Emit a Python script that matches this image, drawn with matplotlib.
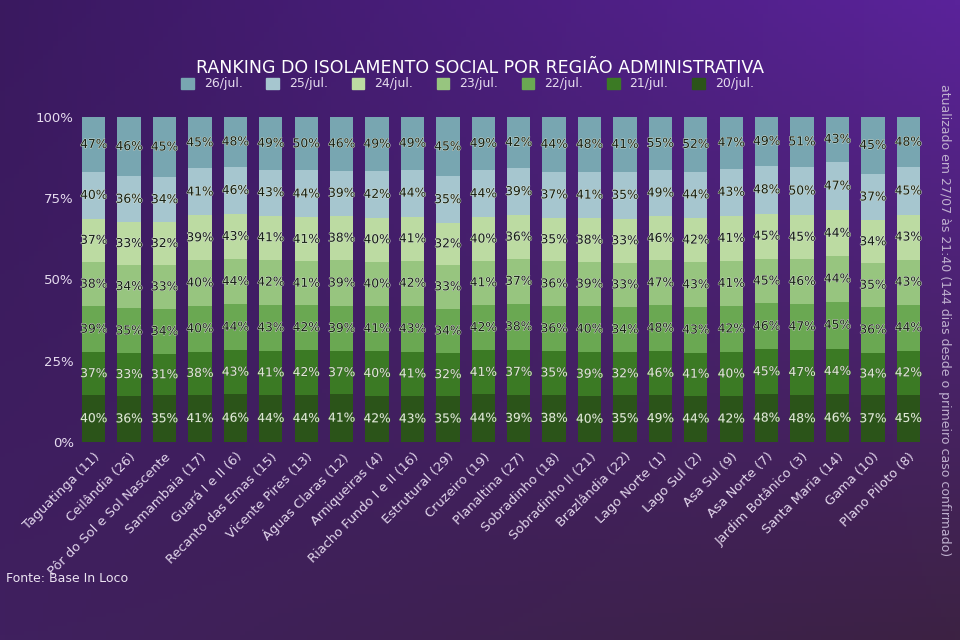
import numpy as np
import matplotlib.pyplot as plt
import matplotlib.patheffects as pe
from matplotlib.colors import to_rgb

# regions (x axis), left to right
regioes = ['Taguatinga (11)', 'Ceilândia (26)', 'Pôr do Sol e Sol Nascente', 'Samambaia (17)',
           'Guará I e II (6)', 'Recanto das Emas (15)', 'Vicente Pires (13)', 'Águas Claras (12)',
           'Arniqueiras (4)', 'Riacho Fundo I e II (16)', 'Estrutural (29)', 'Cruzeiro (19)',
           'Planaltina (27)', 'Sobradinho (18)', 'Sobradinho II (21)', 'Brazlândia (22)',
           'Lago Norte (1)', 'Lago Sul (2)', 'Asa Sul (9)', 'Asa Norte (7)',
           'Jardim Botânico (3)', 'Santa Maria (14)', 'Gama (10)', 'Plano Piloto (8)']

# isolation index (%) per day, bottom to top of each bar
jul20 = [40, 36, 35, 41, 46, 44, 44, 41, 42, 43, 35, 44, 39, 38, 40, 35, 49, 44, 42, 48, 48, 46, 37, 45]
jul21 = [37, 33, 31, 38, 43, 41, 42, 37, 40, 41, 32, 41, 37, 35, 39, 32, 46, 41, 40, 45, 47, 44, 34, 42]
jul22 = [39, 35, 34, 40, 44, 43, 42, 39, 41, 43, 34, 42, 38, 36, 40, 34, 48, 43, 42, 46, 47, 45, 36, 44]
jul23 = [38, 34, 33, 40, 44, 42, 41, 39, 40, 42, 33, 41, 37, 36, 39, 33, 47, 43, 41, 45, 46, 44, 35, 43]
jul24 = [37, 33, 32, 39, 43, 41, 41, 38, 40, 41, 32, 40, 36, 35, 38, 33, 46, 42, 41, 45, 45, 44, 34, 43]
jul25 = [40, 36, 34, 41, 46, 43, 44, 39, 42, 44, 35, 44, 39, 37, 41, 35, 49, 44, 43, 48, 50, 47, 37, 45]
jul26 = [47, 46, 45, 45, 48, 49, 50, 46, 49, 49, 45, 49, 42, 44, 48, 41, 55, 52, 47, 49, 51, 43, 45, 48]

dias = ['20/jul.', '21/jul.', '22/jul.', '23/jul.', '24/jul.', '25/jul.', '26/jul.']
series = [jul20, jul21, jul22, jul23, jul24, jul25, jul26]
cores = ['#2b5419', '#3b7a24', '#6aa852', '#97c57f', '#bcdba2', '#a6c6cf', '#78a6b1']
texto_cor = ['#dfe9d4', '#dfe9d4', '#172214', '#172214', '#172214', '#172214', '#172214']

n = len(regioes)
dados = np.array(series, dtype=float)
frac = dados / dados.sum(axis=0)

fig = plt.figure(figsize=(9.6, 6.4), dpi=100)

# purple gradient background
bg = fig.add_axes([0, 0, 1, 1], zorder=-10)
tl, tr = np.array(to_rgb('#3a1960')), np.array(to_rgb('#5a239a'))
bl, br = np.array(to_rgb('#40205f')), np.array(to_rgb('#3c2243'))
u = np.linspace(0, 1, 200)[None, :, None]
v = np.linspace(0, 1, 140)[:, None, None]
img = (1 - v) * ((1 - u) * tl + u * tr) + v * ((1 - u) * bl + u * br)
bg.imshow(img, aspect='auto', extent=[0, 1, 0, 1])
bg.axis('off')

ax = fig.add_axes([82 / 960, (640 - 442) / 640, (920 - 82) / 960, (442 - 117) / 640])
ax.set_facecolor('none')

x = np.arange(n)
base = np.zeros(n)
for i in range(len(dias)):
    ax.bar(x, frac[i], bottom=base, width=0.66, color=cores[i], linewidth=0)
    halo = '#e4ece0' if i >= 2 else '#35582a'
    for j in range(n):
        ax.text(x[j], base[j] + frac[i][j] / 2, f'{int(dados[i][j])}%', ha='center', va='center',
                fontsize=8.8, color=texto_cor[i],
                path_effects=[pe.withStroke(linewidth=0.6, foreground=halo)])
    base += frac[i]

ax.set_xlim(-0.33, n - 0.67)
ax.set_ylim(0, 1)
ax.set_yticks([0, 0.25, 0.5, 0.75, 1.0])
ax.set_yticklabels(['0%', '25%', '50%', '75%', '100%'], color='#e6dcef', fontsize=9.5)
ax.set_xticks(x)
ax.set_xticklabels(regioes, rotation=45, ha='right', rotation_mode='anchor',
                   color='#e2d6ec', fontsize=9.4)
ax.tick_params(length=0, pad=6)
for s in ax.spines.values():
    s.set_visible(False)

fig.text(0.5, 1 - 68 / 640, 'RANKING DO ISOLAMENTO SOCIAL POR REGIÃO ADMINISTRATIVA',
         ha='center', va='center', color='white', fontsize=12.5)

# legend (top to bottom order of stack)
handles = [plt.Rectangle((0, 0), 1, 1, color=cores[i]) for i in range(6, -1, -1)]
leg = fig.legend(handles, dias[::-1], loc='center', bbox_to_anchor=(0.487, 1 - 84 / 640),
                 ncol=7, frameon=False, fontsize=9, handlelength=1.0, handleheight=1.0,
                 columnspacing=1.9, handletextpad=0.8)
for t in leg.get_texts():
    t.set_color('#e6dcef')

fig.text(945 / 960, 1 - 320 / 640,
         'atualizado em 27/07 às 21:40 (144 dias desde o primeiro caso confirmado)',
         rotation=-90, ha='center', va='center', color='#bfb0cf', fontsize=9)
fig.text(6 / 960, 1 - 578 / 640, 'Fonte: Base In Loco', ha='left', va='center',
         color='#ece4f2', fontsize=9)

fig.savefig('out.png', dpi=100)
